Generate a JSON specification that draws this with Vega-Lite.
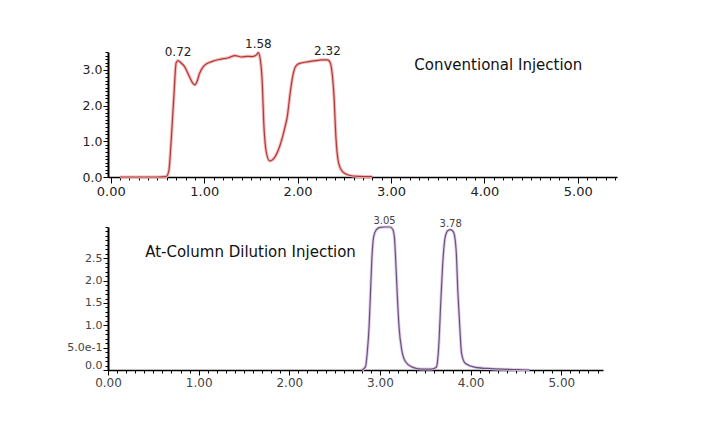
{
  "$schema": "https://vega.github.io/schema/vega-lite/v6.json",
  "background": "white",
  "padding": {"left": 66, "top": 37, "right": 5, "bottom": 5},
  "bounds": "flush",
  "spacing": 50,
  "config": {
    "view": {"stroke": null},
    "axis": {"grid": false, "domainColor": "#000", "tickColor": "#000", "labelFont": "DejaVu Sans", "labelFontSize": 12, "labelColor": "#222", "labelOverlap": false, "labelFlush": false, "title": null, "tickCount": 300}
  },
  "datasets": {
    "conv": [
      {"t": 0.10, "v": 0.0}, {"t": 0.30, "v": 0.0}, {"t": 0.50, "v": 0.0}, {"t": 0.59, "v": 0.01},
      {"t": 0.62, "v": 0.15}, {"t": 0.647, "v": 1.04}, {"t": 0.675, "v": 2.25}, {"t": 0.70, "v": 3.20},
      {"t": 0.72, "v": 3.26}, {"t": 0.75, "v": 3.20}, {"t": 0.79, "v": 3.09}, {"t": 0.84, "v": 2.82},
      {"t": 0.88, "v": 2.62}, {"t": 0.90, "v": 2.58}, {"t": 0.92, "v": 2.65}, {"t": 0.95, "v": 2.90},
      {"t": 1.00, "v": 3.12}, {"t": 1.08, "v": 3.23}, {"t": 1.18, "v": 3.30}, {"t": 1.26, "v": 3.34},
      {"t": 1.33, "v": 3.40}, {"t": 1.40, "v": 3.36}, {"t": 1.46, "v": 3.38}, {"t": 1.51, "v": 3.37},
      {"t": 1.56, "v": 3.42}, {"t": 1.58, "v": 3.48}, {"t": 1.60, "v": 3.30}, {"t": 1.62, "v": 2.72},
      {"t": 1.64, "v": 1.40}, {"t": 1.665, "v": 0.70}, {"t": 1.70, "v": 0.45}, {"t": 1.73, "v": 0.48},
      {"t": 1.76, "v": 0.57}, {"t": 1.80, "v": 0.80}, {"t": 1.83, "v": 1.04}, {"t": 1.87, "v": 1.45},
      {"t": 1.89, "v": 1.70}, {"t": 1.92, "v": 2.34}, {"t": 1.95, "v": 2.85}, {"t": 1.98, "v": 3.10},
      {"t": 2.02, "v": 3.18}, {"t": 2.12, "v": 3.23}, {"t": 2.20, "v": 3.26}, {"t": 2.26, "v": 3.28},
      {"t": 2.32, "v": 3.28}, {"t": 2.35, "v": 3.20}, {"t": 2.37, "v": 2.90}, {"t": 2.39, "v": 2.25},
      {"t": 2.41, "v": 1.13}, {"t": 2.44, "v": 0.38}, {"t": 2.48, "v": 0.15}, {"t": 2.55, "v": 0.05},
      {"t": 2.65, "v": 0.02}, {"t": 2.80, "v": 0.01}
    ],
    "convPeaks": [
      {"t": 0.72, "v": 3.26, "label": "0.72"},
      {"t": 1.58, "v": 3.48, "label": "1.58"},
      {"t": 2.32, "v": 3.28, "label": "2.32"}
    ],
    "acd": [
      {"t": 2.80, "v": 0.0}, {"t": 2.84, "v": 0.07}, {"t": 2.86, "v": 0.4}, {"t": 2.88, "v": 0.97},
      {"t": 2.895, "v": 1.71}, {"t": 2.91, "v": 2.46}, {"t": 2.93, "v": 2.98}, {"t": 2.96, "v": 3.14},
      {"t": 3.00, "v": 3.19}, {"t": 3.05, "v": 3.20}, {"t": 3.11, "v": 3.20}, {"t": 3.14, "v": 3.15},
      {"t": 3.16, "v": 2.95}, {"t": 3.17, "v": 2.60}, {"t": 3.19, "v": 1.71}, {"t": 3.21, "v": 0.97},
      {"t": 3.24, "v": 0.45}, {"t": 3.28, "v": 0.19}, {"t": 3.35, "v": 0.07}, {"t": 3.46, "v": 0.02},
      {"t": 3.57, "v": 0.02}, {"t": 3.62, "v": 0.06}, {"t": 3.635, "v": 0.2}, {"t": 3.65, "v": 0.6},
      {"t": 3.67, "v": 1.49}, {"t": 3.69, "v": 2.31}, {"t": 3.72, "v": 2.98}, {"t": 3.75, "v": 3.12},
      {"t": 3.78, "v": 3.14}, {"t": 3.81, "v": 3.09}, {"t": 3.83, "v": 2.90}, {"t": 3.84, "v": 2.68},
      {"t": 3.86, "v": 1.71}, {"t": 3.88, "v": 0.97}, {"t": 3.90, "v": 0.37}, {"t": 3.94, "v": 0.15},
      {"t": 4.05, "v": 0.06}, {"t": 4.23, "v": 0.03}, {"t": 4.52, "v": 0.01}, {"t": 4.65, "v": 0.0}
    ],
    "acdPeaks": [
      {"t": 3.05, "v": 3.20, "label": "3.05"},
      {"t": 3.78, "v": 3.14, "label": "3.78"}
    ]
  },
  "vconcat": [
    {
      "width": 509,
      "height": 125,
      "layer": [
        {
          "data": {"name": "conv"},
          "mark": {"type": "line", "stroke": "#f4b8b8", "strokeWidth": 3.2, "interpolate": "monotone"},
          "encoding": {
            "x": {"field": "t", "type": "quantitative", "scale": {"domain": [-0.03, 5.42], "nice": false},
              "axis": {
                "values": [0,0.1,0.2,0.3,0.4,0.5,0.6,0.7,0.8,0.9,1,1.1,1.2,1.3,1.4,1.5,1.6,1.7,1.8,1.9,2,2.1,2.2,2.3,2.4,2.5,2.6,2.7,2.8,2.9,3,3.1,3.2,3.3,3.4,3.5,3.6,3.7,3.8,3.9,4,4.1,4.2,4.3,4.4,4.5,4.6,4.7,4.8,4.9,5,5.1,5.2,5.3,5.4],
                "tickCount": 300,
                "labelExpr": "datum.value % 1 === 0 ? format(datum.value, '.2f') : ''",
                "tickSize": {"condition": {"test": "datum.value % 1 === 0", "value": 6}, "value": 3},
                "domainWidth": 1.5, "labelPadding": 2, "labelFontSize": 13
              }},
            "y": {"field": "v", "type": "quantitative", "scale": {"domain": [0, 3.5], "nice": false},
              "axis": {
                "values": [0,0.1,0.2,0.3,0.4,0.5,0.6,0.7,0.8,0.9,1,1.1,1.2,1.3,1.4,1.5,1.6,1.7,1.8,1.9,2,2.1,2.2,2.3,2.4,2.5,2.6,2.7,2.8,2.9,3,3.1,3.2,3.3,3.4,3.5],
                "tickCount": 300,
                "labelExpr": "datum.value % 1 === 0 ? format(datum.value, '.1f') : ''",
                "tickSize": {"condition": {"test": "datum.value % 1 === 0", "value": 5}, "value": 3},
                "domainWidth": 2, "labelPadding": 1, "labelFontSize": 12.5
              }}
          }
        },
        {
          "data": {"name": "conv"},
          "mark": {"type": "line", "stroke": "#b03a3a", "strokeWidth": 1.2, "interpolate": "monotone"},
          "encoding": {
            "x": {"field": "t", "type": "quantitative"},
            "y": {"field": "v", "type": "quantitative"}
          }
        },
        {
          "data": {"name": "convPeaks"},
          "mark": {"type": "text", "dy": -2, "baseline": "bottom", "font": "DejaVu Sans", "fontSize": 12, "color": "#222"},
          "encoding": {
            "x": {"field": "t", "type": "quantitative"},
            "y": {"field": "v", "type": "quantitative"},
            "text": {"field": "label"}
          }
        },
        {
          "data": {"values": [{}]},
          "mark": {"type": "text", "align": "left", "baseline": "middle", "font": "DejaVu Sans", "fontSize": 15, "color": "#111"},
          "encoding": {
            "x": {"datum": 3.25, "type": "quantitative"},
            "y": {"datum": 3.14, "type": "quantitative"},
            "text": {"value": "Conventional Injection"}
          }
        }
      ]
    },
    {
      "width": 495,
      "height": 143,
      "layer": [
        {
          "data": {"name": "acd"},
          "mark": {"type": "line", "stroke": "#dccde8", "strokeWidth": 3, "interpolate": "monotone"},
          "encoding": {
            "x": {"field": "t", "type": "quantitative", "scale": {"domain": [0, 5.46], "nice": false},
              "axis": {
                "values": [0,0.1,0.2,0.3,0.4,0.5,0.6,0.7,0.8,0.9,1,1.1,1.2,1.3,1.4,1.5,1.6,1.7,1.8,1.9,2,2.1,2.2,2.3,2.4,2.5,2.6,2.7,2.8,2.9,3,3.1,3.2,3.3,3.4,3.5,3.6,3.7,3.8,3.9,4,4.1,4.2,4.3,4.4,4.5,4.6,4.7,4.8,4.9,5,5.1,5.2,5.3,5.4],
                "tickCount": 300,
                "labelExpr": "datum.value % 1 === 0 ? format(datum.value, '.2f') : ''",
                "tickSize": {"condition": {"test": "datum.value % 1 === 0", "value": 5}, "value": 3},
                "domainWidth": 1.5, "labelPadding": 2, "labelFontSize": 12, "labelColor": "#444"
              }},
            "y": {"field": "v", "type": "quantitative", "scale": {"domain": [0, 3.2], "nice": false},
              "axis": {
                "values": [0,0.1,0.2,0.3,0.4,0.5,0.6,0.7,0.8,0.9,1,1.1,1.2,1.3,1.4,1.5,1.6,1.7,1.8,1.9,2,2.1,2.2,2.3,2.4,2.5,2.6,2.7,2.8,2.9,3,3.1,3.2],
                "tickCount": 300,
                "labelExpr": "datum.value == 0.5 ? '5.0e-1' : ((datum.value <= 2.5 && abs(datum.value * 2 - round(datum.value * 2)) < 0.001) ? format(datum.value, '.1f') : '')",
                "tickSize": {"condition": {"test": "datum.value <= 2.5 && abs(datum.value * 2 - round(datum.value * 2)) < 0.001", "value": 5}, "value": 3},
                "domainWidth": 2, "labelPadding": 1, "labelFontSize": 11, "labelColor": "#444",
                "labelBaseline": {"condition": {"test": "datum.value == 0", "value": "bottom"}, "value": "middle"}
              }}
          }
        },
        {
          "data": {"name": "acd"},
          "mark": {"type": "line", "stroke": "#6e5080", "strokeWidth": 1.2, "interpolate": "monotone"},
          "encoding": {
            "x": {"field": "t", "type": "quantitative"},
            "y": {"field": "v", "type": "quantitative"}
          }
        },
        {
          "data": {"name": "acdPeaks"},
          "mark": {"type": "text", "dy": -1, "baseline": "bottom", "font": "DejaVu Sans", "fontSize": 10, "color": "#444"},
          "encoding": {
            "x": {"field": "t", "type": "quantitative"},
            "y": {"field": "v", "type": "quantitative"},
            "text": {"field": "label"}
          }
        },
        {
          "data": {"values": [{}]},
          "mark": {"type": "text", "align": "left", "baseline": "middle", "font": "DejaVu Sans", "fontSize": 15, "color": "#111"},
          "encoding": {
            "x": {"datum": 0.41, "type": "quantitative"},
            "y": {"datum": 2.63, "type": "quantitative"},
            "text": {"value": "At-Column Dilution Injection"}
          }
        }
      ]
    }
  ]
}
